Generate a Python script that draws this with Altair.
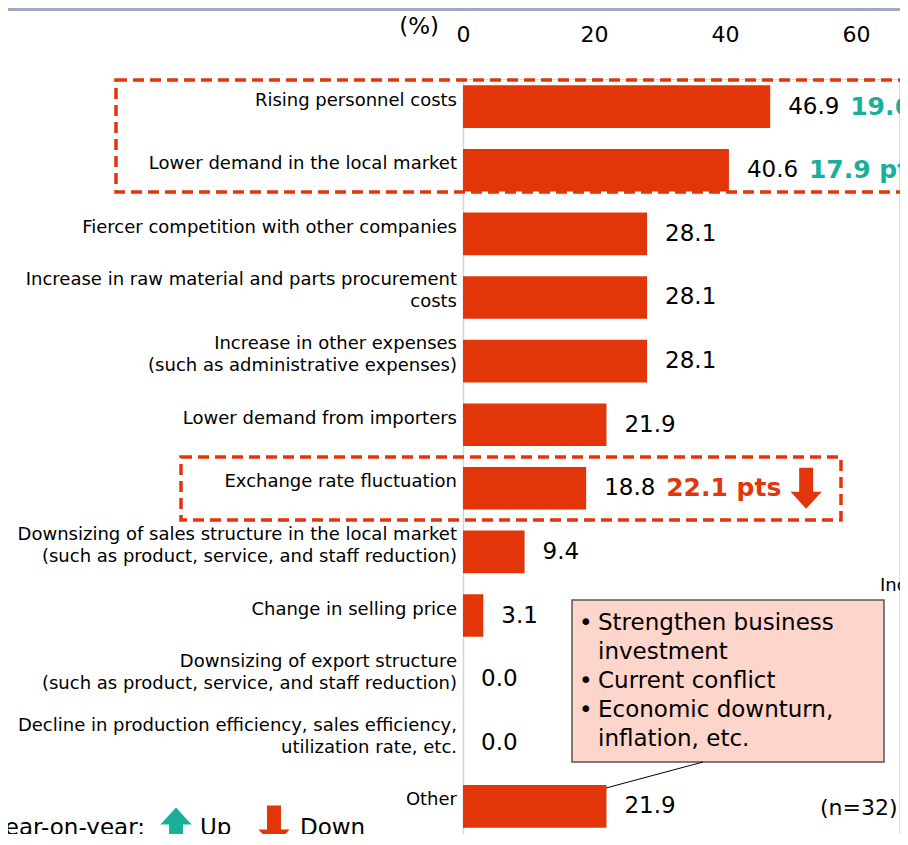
import altair as alt
import pandas as pd

# ---------------- data ----------------
categories = [
    "Rising personnel costs",
    "Lower demand in the local market",
    "Fiercer competition with other companies",
    "Increase in raw material and parts procurement\ncosts",
    "Increase in other expenses\n(such as administrative expenses)",
    "Lower demand from importers",
    "Exchange rate fluctuation",
    "Downsizing of sales structure in the local market\n(such as product, service, and staff reduction)",
    "Change in selling price",
    "Downsizing of export structure\n(such as product, service, and staff reduction)",
    "Decline in production efficiency, sales efficiency,\nutilization rate, etc.",
    "Other",
]
values = [46.9, 40.6, 28.1, 28.1, 28.1, 21.9, 18.8, 9.4, 3.1, 0.0, 0.0, 21.9]

change_categories = ["Rising personnel costs", "Lower demand in the local market", "Exchange rate fluctuation"]
change_values = [46.9, 40.6, 18.8]
change_labels = ["19.6 pts", "17.9 pts", "22.1 pts"]
change_dirs = ["up", "up", "down"]

callout_lines = ["Strengthen business", "investment", "Current conflict",
                 "Economic downturn,", "inflation, etc."]
callout_bullet_rows = [0, 2, 3]

x_ticks = [0, 20, 40, 60]

# ---------------- style ----------------
RED = "#e2360a"
TEAL = "#1aaf9b"
FONT = "DejaVu Sans"
UP = "M-0.34,1L0.34,1L0.34,-0.17L0.76,-0.17L0,-1L-0.76,-0.17L-0.34,-0.17Z"
DOWN = "M-0.34,-1L0.34,-1L0.34,0.17L0.76,0.17L0,1L-0.76,0.17L-0.34,0.17Z"
LINE_H = 29
CALLOUT_Y0 = 544

df = pd.DataFrame({"category": categories, "value": values})
df["multiline"] = df["category"].str.contains("\n")
chg = pd.DataFrame({"category": change_categories, "value": change_values,
                    "label": change_labels, "dir": change_dirs})
one = pd.DataFrame({"k": [0]})

y_enc = alt.Y(
    "category:N", sort=categories, title=None,
    scale=alt.Scale(paddingInner=0.33, paddingOuter=0.1),
    axis=alt.Axis(labels=False, ticks=False, domainColor="#d4d4d4",
                  domainWidth=1.5, grid=False),
)
x_enc = alt.X(
    "value:Q", title=None,
    scale=alt.Scale(domain=[0, 66.56], nice=False, zero=True),
    axis=alt.Axis(
        orient="top", values=x_ticks, domain=False, ticks=False, grid=False,
        labelFlush=False, labelFont=FONT, labelFontSize=22, labelColor="#000",
        labelPadding=33,
    ),
)
y_plain = alt.Y("category:N", sort=categories)

base = alt.Chart(df)

bars = base.mark_bar(color=RED).encode(y=y_enc, x=x_enc)

cat_single = base.transform_filter("!datum.multiline").mark_text(
    align="right", baseline="middle", dy=-6, font=FONT, fontSize=18, color="#000"
).encode(y=y_plain, x=alt.value(-6), text="category:N")

cat_multi = base.transform_filter("datum.multiline").mark_text(
    align="right", baseline="middle", dy=-17, lineBreak="\n", lineHeight=22,
    font=FONT, fontSize=18, color="#000"
).encode(y=y_plain, x=alt.value(-6), text="category:N")

value_text = base.mark_text(
    align="left", baseline="middle", dx=18, font=FONT, fontSize=23, color="#000"
).encode(y=y_plain, x="value:Q", text=alt.Text("value:Q", format=".1f"))

dir_color = alt.Color("dir:N", scale=alt.Scale(domain=["up", "down"], range=[TEAL, RED]), legend=None)

change_text = alt.Chart(chg).mark_text(
    align="left", baseline="middle", dx=80, font=FONT, fontSize=25, fontWeight="bold"
).encode(y=y_plain, x="value:Q", text="label:N", color=dir_color)

change_arrow = alt.Chart(chg).mark_point(
    filled=True, size=1681, opacity=1, strokeWidth=0
).encode(
    y=y_plain, x="value:Q", xOffset=alt.value(220), color=dir_color,
    shape=alt.Shape("dir:N", scale=alt.Scale(domain=["up", "down"], range=[UP, DOWN]), legend=None),
)

top_line = alt.Chart(one).mark_rule(color="#9eaabf", strokeWidth=3).encode(
    x=alt.value(-463), x2=alt.value(445), y=alt.value(-69.5))

pct = alt.Chart(one).mark_text(
    text="(%)", align="right", baseline="middle", font=FONT, fontSize=23, color="#000"
).encode(x=alt.value(-24), y=alt.value(-52))

box1 = alt.Chart(one).mark_rect(
    fillOpacity=0, stroke=RED, strokeWidth=3.5, strokeDash=[11, 6]
).encode(x=alt.value(-347), x2=alt.value(460), y=alt.value(1), y2=alt.value(113))

box2 = alt.Chart(one).mark_rect(
    fillOpacity=0, stroke=RED, strokeWidth=3.5, strokeDash=[11, 6]
).encode(x=alt.value(-282), x2=alt.value(378), y=alt.value(378), y2=alt.value(441))

callout = alt.Chart(one).mark_rect(
    fill="#fdd5cb", stroke="#555555", strokeWidth=1.5
).encode(x=alt.value(109), x2=alt.value(421), y=alt.value(521), y2=alt.value(683))

leader = alt.Chart(one).mark_rule(color="#000", strokeWidth=1).encode(
    x=alt.value(240), y=alt.value(683), x2=alt.value(143), y2=alt.value(709))

bullet_layers = [
    alt.Chart(one).mark_text(
        text="•", align="left", baseline="middle", font=FONT, fontSize=23, color="#000"
    ).encode(x=alt.value(116), y=alt.value(CALLOUT_Y0 + r * LINE_H))
    for r in callout_bullet_rows
]

callout_t = alt.Chart(one).mark_text(
    text=callout_lines, align="left", baseline="middle", lineHeight=LINE_H,
    font=FONT, fontSize=23, color="#000"
).encode(x=alt.value(135), y=alt.value(CALLOUT_Y0))

n_text = alt.Chart(one).mark_text(
    text="(n=32)", align="left", baseline="middle", font=FONT, fontSize=22, color="#000"
).encode(x=alt.value(357), y=alt.value(729))

inc_text = alt.Chart(one).mark_text(
    text="Increase", align="left", baseline="middle", font=FONT, fontSize=18, color="#000"
).encode(x=alt.value(417), y=alt.value(507))

yoy_text = alt.Chart(one).mark_text(
    text="Year-on-year:", align="right", baseline="middle", font=FONT, fontSize=23, color="#000"
).encode(x=alt.value(-318), y=alt.value(749))

up_arrow = alt.Chart(one).mark_point(
    shape=UP, filled=True, size=1681, opacity=1, strokeWidth=0, color=TEAL
).encode(x=alt.value(-287), y=alt.value(749))

up_text = alt.Chart(one).mark_text(
    text="Up", align="left", baseline="middle", font=FONT, fontSize=23, color="#000"
).encode(x=alt.value(-263), y=alt.value(749))

down_arrow = alt.Chart(one).mark_point(
    shape=DOWN, filled=True, size=1681, opacity=1, strokeWidth=0, color=RED
).encode(x=alt.value(-189), y=alt.value(747))

down_text = alt.Chart(one).mark_text(
    text="Down", align="left", baseline="middle", font=FONT, fontSize=23, color="#000"
).encode(x=alt.value(-163), y=alt.value(749))

chart = alt.layer(
    top_line, box1, box2, bars, cat_single, cat_multi, value_text, change_text,
    change_arrow, callout, leader, *bullet_layers, callout_t, pct, n_text, inc_text,
    yoy_text, up_arrow, up_text, down_arrow, down_text,
).properties(
    width=436, height=755,
    padding={"left": 455, "top": 71, "right": 1, "bottom": 0},
    autosize=alt.AutoSizeParams(type="none"),
).configure_view(stroke=None).configure(background="white")

chart.save("out.html", embed_options={"renderer": "svg", "actions": False})
